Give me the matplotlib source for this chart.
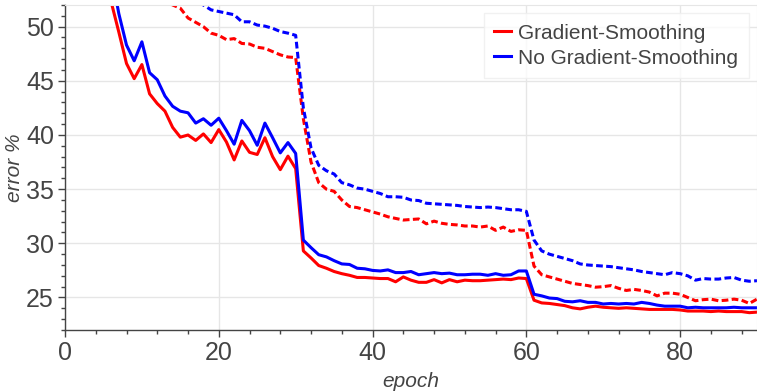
import matplotlib
matplotlib.use("Agg")
import matplotlib.pyplot as plt
from matplotlib.ticker import MultipleLocator

epochs = list(range(1, 91))

gs_solid = [75, 68, 63, 59, 55.5, 52.3, 49.5, 46.6, 45.2, 46.5,
            43.8, 42.9, 42.2, 40.7, 39.8, 40.0, 39.5, 40.1, 39.3, 40.5,
            39.35, 37.7, 39.45, 38.4, 38.2, 39.75, 38.0, 36.8, 38.05, 36.9,
            29.3, 28.65, 27.95, 27.7, 27.4, 27.2, 27.05, 26.85, 26.85, 26.8,
            26.75, 26.75, 26.45, 26.9, 26.6, 26.4, 26.4, 26.65, 26.35, 26.65,
            26.45, 26.6, 26.55, 26.55, 26.6, 26.65, 26.7, 26.65, 26.8, 26.75,
            24.75, 24.5, 24.45, 24.35, 24.25, 24.05, 23.95, 24.1, 24.2, 24.1,
            24.05, 24.0, 24.05, 24.0, 23.95, 23.9, 23.9, 23.9, 23.9, 23.85,
            23.75, 23.75, 23.75, 23.7, 23.75, 23.7, 23.7, 23.7, 23.6, 23.65]

nogs_solid = [78, 71, 66, 61.5, 58, 55, 51.2, 48.3, 46.85, 48.6,
              45.75, 45.1, 43.6, 42.65, 42.2, 42.05, 41.1, 41.5, 40.9, 41.55,
              40.4, 39.15, 41.35, 40.4, 39.05, 41.1, 39.75, 38.35, 39.3, 38.3,
              30.3, 29.6, 28.95, 28.75, 28.4, 28.1, 28.05, 27.7, 27.65, 27.5,
              27.45, 27.55, 27.3, 27.3, 27.4, 27.1, 27.2, 27.3, 27.2, 27.25,
              27.1, 27.1, 27.15, 27.15, 27.05, 27.2, 27.05, 27.1, 27.45, 27.45,
              25.3, 25.15, 24.95, 24.9, 24.65, 24.6, 24.7, 24.55, 24.55, 24.4,
              24.45, 24.4, 24.45, 24.4, 24.55, 24.45, 24.3, 24.2, 24.2, 24.2,
              24.05, 24.1, 24.05, 24.05, 24.05, 24.05, 24.1, 24.05, 24.05, 24.05]

gs_dashed = [85, 78, 72, 67, 63, 60, 58, 56.5, 55.2, 54.2,
             53.4, 52.8, 52.4, 52.0, 51.7, 50.8, 50.4, 50.0, 49.4, 49.2,
             48.8, 48.9, 48.45, 48.4, 48.1, 48.0, 47.7, 47.4, 47.2, 47.15,
             41.5, 37.5, 35.6, 35.0, 34.8, 34.0, 33.4, 33.3, 33.1, 32.9,
             32.7, 32.45, 32.3, 32.15, 32.2, 32.25, 31.8, 32.05, 31.85, 31.75,
             31.7, 31.6, 31.6, 31.5, 31.6, 31.2, 31.5, 31.1, 31.25, 31.2,
             27.9, 27.1, 26.9, 26.7, 26.5, 26.3, 26.2, 26.1, 25.95, 26.0,
             26.1, 25.85, 25.65, 25.75, 25.65, 25.5, 25.15, 25.4, 25.4, 25.3,
             25.0, 24.7, 24.8, 24.85, 24.7, 24.75, 24.85, 24.75, 24.45, 24.85]

nogs_dashed = [88, 81, 75, 70, 66, 63, 60.5, 58.6, 57.2, 56,
               55.1, 54.4, 53.8, 53.3, 52.9, 52.6, 52.3, 52.0, 51.55, 51.4,
               51.25, 51.1, 50.45, 50.45, 50.15, 50.05, 49.85, 49.55, 49.4, 49.2,
               42.5, 38.8, 37.2, 36.7, 36.4, 35.6, 35.4, 35.1, 35.0, 34.8,
               34.6, 34.3, 34.3, 34.25, 34.0, 33.95, 33.7, 33.65, 33.6, 33.55,
               33.5, 33.4, 33.35, 33.3, 33.35, 33.3, 33.2, 33.1, 33.1, 32.95,
               30.3, 29.3, 29.0, 28.8, 28.6, 28.4, 28.1, 28.0, 27.95, 27.9,
               27.85, 27.75, 27.65, 27.55, 27.4, 27.3, 27.2, 27.1, 27.3, 27.2,
               27.0, 26.6, 26.75, 26.7, 26.7, 26.8, 26.85, 26.6, 26.5, 26.55]

labels = ["Gradient-Smoothing", "No Gradient-Smoothing"]
colors = ["#ff0000", "#0000ff"]

plt.rcParams['font.family'] = ['Liberation Sans', 'DejaVu Sans']
fig = plt.figure(figsize=(7.57, 3.91), dpi=100)
ax = fig.add_axes([65/757, 1-330/391, (757-65)/757, 325/391])

lw = 2.2
ax.plot(epochs, gs_solid, color=colors[0], lw=lw, label=labels[0])
ax.plot(epochs, nogs_solid, color=colors[1], lw=lw, label=labels[1])
ax.plot(epochs, gs_dashed, color=colors[0], lw=lw, dashes=(2.2, 1.1))
ax.plot(epochs, nogs_dashed, color=colors[1], lw=lw, dashes=(2.2, 1.1))

ax.set_xlim(0, 90)
ax.set_ylim(22, 52)
ax.xaxis.set_major_locator(MultipleLocator(20))
ax.xaxis.set_minor_locator(MultipleLocator(4))
ax.yaxis.set_major_locator(MultipleLocator(5))
ax.yaxis.set_minor_locator(MultipleLocator(1))
ax.grid(True, which='major', color='#e6e6e6', lw=1)
ax.set_axisbelow(True)

for s in ['top', 'right']:
    ax.spines[s].set_color('#e6e6e6')
for s in ['left', 'bottom']:
    ax.spines[s].set_color('#444444')
    ax.spines[s].set_linewidth(1.0)

ax.tick_params(axis='both', which='major', direction='out', length=5, width=1,
               color='#444444', labelsize=18, labelcolor='#444444', pad=3)
ax.tick_params(axis='both', which='minor', direction='out', length=3, width=1,
               color='#444444')

ax.set_xlabel("epoch", fontsize=15, style='italic', color='#444444')
ax.set_ylabel("error %", fontsize=15, style='italic', color='#444444')
ax.xaxis.set_label_coords(0.5, -(372 - 330) / 325)
ax.yaxis.set_label_coords(-(65 - 24) / 692, 0.5)

leg = ax.legend(loc='upper right', bbox_to_anchor=(0.988, 0.975), fontsize=15,
                handlelength=0.8, handletextpad=0.35, labelspacing=0.3,
                borderpad=0.5, borderaxespad=0, frameon=True, fancybox=False,
                labelcolor='#444444')
leg.get_frame().set_edgecolor('#eeeeee')
leg.get_frame().set_linewidth(1)

fig.savefig("out.png", dpi=100)
